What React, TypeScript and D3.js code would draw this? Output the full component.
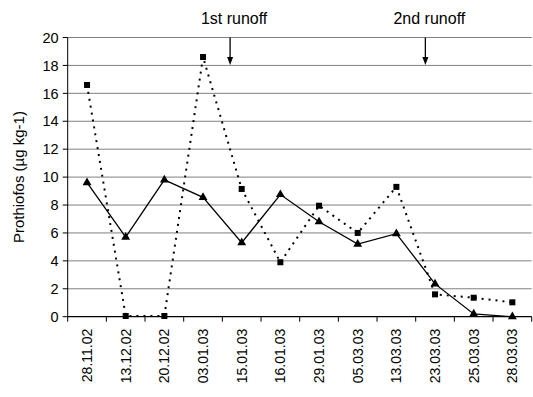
import React from "react";
import * as d3 from "d3";

const categories = [
  "28.11.02", "13.12.02", "20.12.02", "03.01.03", "15.01.03", "16.01.03",
  "29.01.03", "05.03.03", "13.03.03", "23.03.03", "25.03.03", "28.03.03",
];
const squareValues = [16.6, 0.05, 0.05, 18.6, 9.15, 3.9, 7.95, 6.0, 9.3, 1.6, 1.36, 1.03];
const triangleValues = [9.6, 5.7, 9.8, 8.55, 5.3, 8.75, 6.8, 5.2, 5.95, 2.35, 0.2, 0.0];
const yTicks = [0, 2, 4, 6, 8, 10, 12, 14, 16, 18, 20];
const runoffLabels = ["1st runoff", "2nd runoff"];
const runoffPositions = [3.7, 8.75];
const yLabel = "Prothiofos (µg kg-1)";

const W = 533;
const H = 397;
const left = 67.7;
const right = 531.7;
const top = 37.5;
const bottom = 316.7;
const FONT = "Liberation Sans, Arial, sans-serif";

export default function App() {
  const x = d3.scaleBand<string>().domain(categories).range([left, right]).padding(0);
  const xi = d3.scaleLinear().domain([0, categories.length]).range([left, right]);
  const y = d3.scaleLinear().domain([0, 20]).range([bottom, top]);
  const cx = (c: string) => (x(c) as number) + x.bandwidth() / 2;

  const line = d3
    .line<number>()
    .x((_, i) => cx(categories[i]))
    .y((d) => y(d));

  const tri = d3.symbol().type(d3.symbolTriangle).size(34)();

  return (
    <svg
      width={W}
      height={H}
      style={{ position: "absolute", left: 0, top: 0, background: "#fff" }}
      fontFamily={FONT}
    >
      <rect x={0} y={0} width={W} height={H} fill="#fff" />
      {/* gridlines */}
      {yTicks.filter((t) => t > 0).map((t) => (
        <line key={t} x1={left} x2={right} y1={y(t)} y2={y(t)} stroke="#808080" strokeWidth={1} />
      ))}
      {/* y axis */}
      <line x1={left} x2={left} y1={top} y2={bottom} stroke="#000" strokeWidth={1} />
      {yTicks.map((t) => (
        <g key={t}>
          <line x1={left - 5} x2={left} y1={y(t)} y2={y(t)} stroke="#000" />
          <text x={left - 9} y={y(t)} dy="0.36em" textAnchor="end" fontSize={14.5}>
            {t}
          </text>
        </g>
      ))}
      {/* x axis */}
      <line x1={left} x2={right} y1={bottom} y2={bottom} stroke="#000" strokeWidth={1.2} />
      {d3.range(categories.length + 1).map((i) => (
        <line key={i} x1={xi(i)} x2={xi(i)} y1={bottom} y2={bottom + 5} stroke="#000" />
      ))}
      {categories.map((c) => (
        <text
          key={c}
          transform={`translate(${cx(c)},${bottom + 12}) rotate(-90)`}
          textAnchor="end"
          dy="0.36em"
          fontSize={14}
        >
          {c}
        </text>
      ))}
      {/* y label */}
      <text
        transform={`translate(19,${(top + bottom) / 2}) rotate(-90)`}
        textAnchor="middle"
        dy="0.36em"
        fontSize={15}
      >
        {yLabel}
      </text>
      {/* series: dotted squares */}
      <path
        d={line(squareValues) || ""}
        fill="none"
        stroke="#000"
        strokeWidth={2}
        strokeDasharray="2 5"
      />
      {squareValues.map((v, i) => (
        <rect key={i} x={cx(categories[i]) - 3} y={y(v) - 3} width={6} height={6} fill="#000" />
      ))}
      {/* series: solid triangles */}
      <path d={line(triangleValues) || ""} fill="none" stroke="#000" strokeWidth={1.3} />
      {triangleValues.map((v, i) => (
        <path key={i} d={tri || ""} transform={`translate(${cx(categories[i])},${y(v)})`} fill="#000" />
      ))}
      {/* runoff arrows */}
      {runoffLabels.map((lab, k) => {
        const ax = xi(runoffPositions[k] + 0.5);
        return (
          <g key={lab}>
            <text x={ax + 4} y={24} textAnchor="middle" fontSize={16}>
              {lab}
            </text>
            <line x1={ax} x2={ax} y1={top} y2={60} stroke="#000" strokeWidth={1.3} />
            <path d={`M${ax - 3},${57} L${ax + 3},${57} L${ax},${65} Z`} fill="#000" />
          </g>
        );
      })}
    </svg>
  );
}
